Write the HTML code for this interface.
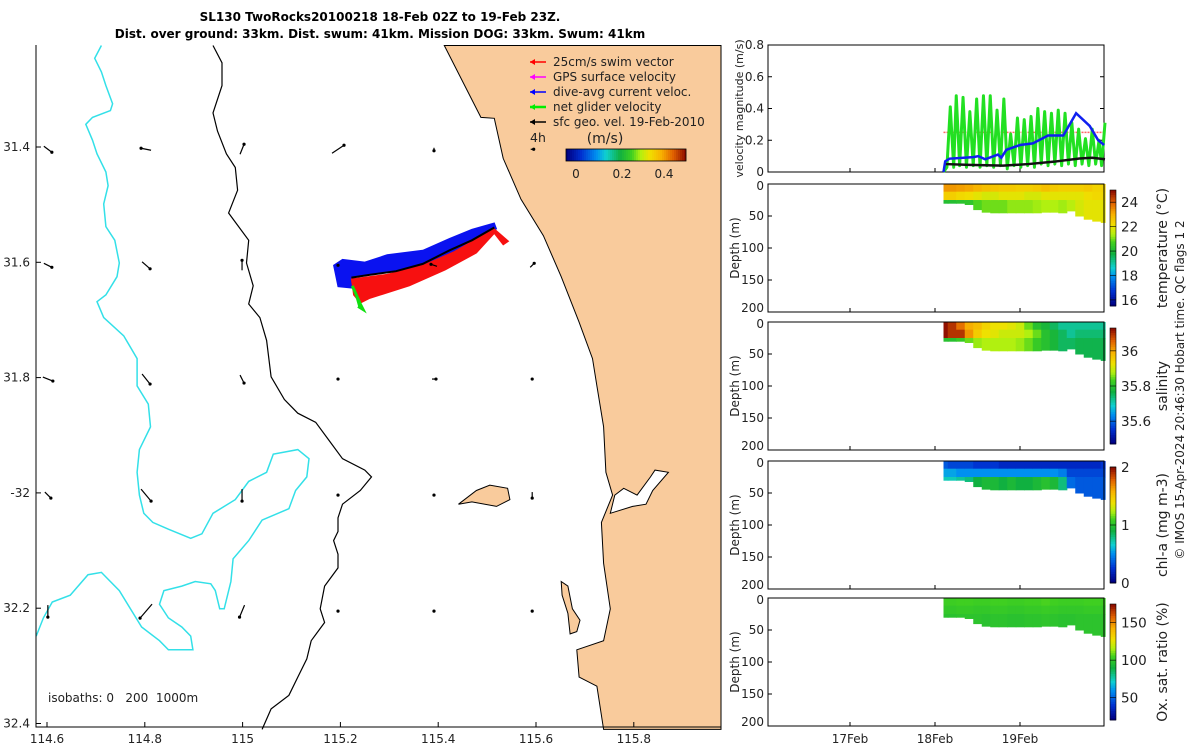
<!DOCTYPE html>
<html><head><meta charset="utf-8"><style>
html,body{margin:0;padding:0;background:#fff;}
svg{display:block;font-family:"DejaVu Sans","Liberation Sans",sans-serif;}
</style></head><body>
<svg id="fig" width="1200" height="750" viewBox="0 0 1200 750" xmlns="http://www.w3.org/2000/svg">
<text x="380" y="21" text-anchor="middle" font-size="12" font-weight="bold">SL130 TwoRocks20100218 18-Feb 02Z to 19-Feb 23Z.</text>
<text x="380" y="38" text-anchor="middle" font-size="12" font-weight="bold">Dist. over ground: 33km. Dist. swum: 41km. Mission DOG: 33km. Swum: 41km</text>
<g id="map"></g>
<g id="right"></g>
<text transform="translate(1184,390) rotate(-90)" text-anchor="middle" font-size="12" fill="#222">© IMOS 15-Apr-2024 20:46:30 Hobart time. QC flags 1  2</text>
</svg>
<script>
// ---------- data ----------
const NS="http://www.w3.org/2000/svg";
const profTimes=[18.1,18.2,18.3,18.4,18.5,18.6,18.7,18.8,18.9,19.0,19.1,19.2,19.3,19.4,19.5,19.6,19.7,19.8,19.9,20.0];
const bottomDepth=[30,30,30,32,40,44,45,45,45,45,45,45,44,44,45,42,50,55,58,60];
const tempTop=[23.4,23.4,23.3,23.2,23.0,22.8,22.7,22.6,22.6,22.5,22.5,22.6,22.8,22.6,22.5,22.5,22.5,22.6,22.4,22.4];
const tempMid=[22.5,22.5,22.3,22.2,22,21.8,21.8,22,22,22,21.8,21.8,22,22,22,22,22,22.2,22.3,22.3];
const tempBot=[20.2,20.2,20.3,20.4,20.8,21,21,21,21.2,21.2,21.2,21.3,21.4,21.4,21.3,21.5,21.8,22,22,22];
const salTop=[36.13,36.1,36.05,36.0,35.98,35.95,35.93,35.93,35.92,35.9,35.85,35.8,35.78,35.75,35.72,35.72,35.72,35.72,35.72,35.72];
const salMid=[36.13,36.1,36.1,36.02,35.96,35.93,35.92,35.9,35.9,35.9,35.88,35.85,35.8,35.78,35.75,35.72,35.74,35.74,35.74,35.74];
const salBot=[35.8,35.8,35.82,35.85,35.87,35.88,35.88,35.88,35.88,35.87,35.85,35.82,35.8,35.78,35.75,35.75,35.76,35.76,35.76,35.76];
const chlTop=[0.35,0.3,0.3,0.3,0.25,0.25,0.25,0.2,0.2,0.2,0.2,0.2,0.2,0.2,0.2,0.2,0.2,0.2,0.2,0.25];
const chlMid=[0.55,0.55,0.5,0.5,0.5,0.5,0.5,0.5,0.5,0.5,0.5,0.5,0.5,0.5,0.45,0.3,0.3,0.3,0.3,0.3];
const chlBot=[0.7,0.7,0.75,0.8,0.9,0.95,0.95,0.9,0.95,0.9,0.9,0.95,1.0,0.95,0.8,0.4,0.35,0.35,0.35,0.35];
const oxTop=[104,104,105,105,104,104,105,105,104,104,105,105,106,105,104,104,104,105,105,104];
const oxMid=[101,101,102,102,101,101,102,102,101,101,102,102,103,102,101,101,101,102,102,101];
const oxBot=[98,98,99,99,99,98,99,99,98,98,99,99,100,99,98,98,99,99,99,99];
const glideTimes=[18.1,18.14,18.18,18.22,18.25,18.29,18.33,18.37,18.41,18.45,18.49,18.53,18.57,18.61,18.65,18.69,18.73,18.77,18.81,18.85,18.89,18.93,18.97,19.01,19.05,19.09,19.13,19.17,19.21,19.25,19.29,19.33,19.37,19.41,19.45,19.49,19.53,19.57,19.61,19.65,19.69,19.73,19.77,19.81,19.85,19.89,19.93,19.96,20.0];
const glideSpeed=[0.0,0.03,0.41,0.03,0.48,0.04,0.47,0.03,0.38,0.04,0.46,0.03,0.48,0.04,0.48,0.03,0.39,0.04,0.46,0.02,0.24,0.04,0.34,0.03,0.33,0.04,0.35,0.03,0.40,0.05,0.38,0.04,0.37,0.05,0.39,0.04,0.37,0.05,0.31,0.04,0.27,0.05,0.21,0.04,0.27,0.05,0.20,0.04,0.31];
const curTimes=[18.10,18.12,18.17,18.45,18.51,18.59,18.74,18.78,18.84,19.0,19.15,19.33,19.51,19.66,19.82,19.92,19.99];
const curSpeed=[0,0.067,0.084,0.094,0.10,0.08,0.11,0.09,0.14,0.17,0.18,0.23,0.23,0.37,0.29,0.20,0.17];
const geoTimes=[18.12,18.4,18.8,19.1,19.4,19.7,19.85,20.0];
const geoSpeed=[0.05,0.045,0.04,0.05,0.065,0.085,0.09,0.08];
const swimRef=[0.25];
const velTicks=[0,0.2,0.4,0.6,0.8];
const depthTicks=[0,50,100,150,200];
const dayTicks=[17,18,19];
const dayLabels=["17Feb","18Feb","19Feb"];

// ---------- helpers ----------
function el(tag,attrs,parent){const e=document.createElementNS(NS,tag);for(const k in attrs)e.setAttribute(k,attrs[k]);parent.appendChild(e);return e;}
const cmapStops=[[0,[0,0,128]],[0.12,[0,48,208]],[0.25,[0,144,240]],[0.33,[16,208,208]],[0.45,[16,176,64]],[0.55,[64,208,32]],[0.62,[176,240,16]],[0.7,[240,224,0]],[0.8,[248,176,0]],[0.9,[224,96,0]],[1,[144,16,0]]];
function jet(t){t=Math.max(0,Math.min(1,t));
 for(let i=1;i<cmapStops.length;i++){if(t<=cmapStops[i][0]){const a=cmapStops[i-1],b=cmapStops[i];const f=(t-a[0])/(b[0]-a[0]);
  const c=a[1].map((v,k)=>Math.round(v+(b[1][k]-v)*f));return `rgb(${c[0]},${c[1]},${c[2]})`;}}
 return 'rgb(144,16,0)';}
const svg=document.getElementById('fig');

// ---------- map ----------
const map=document.getElementById('map');
const MX0=36,MX1=721,MY0=45,MY1=727;
const Z=(zx,zy)=>[30+zx*0.4464,147+(zy-235)*0.455];
function zpath(pts,close){return pts.map((p,i)=>{const q=Z(p[0],p[1]);return (i?'L':'M')+q[0].toFixed(1)+' '+q[1].toFixed(1);}).join(' ')+(close?' Z':'');}
const land=[[928,12],[1010,170],[1040,172],[1042,180],[1060,260],[1100,350],[1150,430],[1190,520],[1230,620],[1260,700],[1270,760],[1285,850],[1290,950],[1305,1000],[1280,1060],[1285,1150],[1300,1250],[1285,1320],[1225,1340],[1230,1400],[1270,1420],[1285,1515],[1548,1515],[1548,12]];
let p=el('path',{d:zpath(land,true),fill:'#f9cb9c',stroke:'#000','stroke-width':1},map);

const estuary=[[1310,1000],[1330,985],[1360,1000],[1390,960],[1400,945],[1430,950],[1395,990],[1380,1020],[1350,1025],[1300,1040]];
p=el('path',{d:zpath(estuary,true),fill:'#fff',stroke:'#000','stroke-width':1},map);

const rottnest=[[960,1020],[1000,990],[1030,978],[1070,985],[1075,1010],[1045,1025],[990,1015]];
p=el('path',{d:zpath(rottnest,true),fill:'#f9cb9c',stroke:'#000','stroke-width':1},map);

const garden=[[1190,1190],[1205,1200],[1215,1250],[1232,1275],[1225,1300],[1210,1305],[1205,1260],[1192,1220]];
p=el('path',{d:zpath(garden,true),fill:'#f9cb9c',stroke:'#000','stroke-width':1},map);

const iso200=[[410,12],[430,50],[430,100],[410,160],[420,200],[440,250],[460,280],[465,330],[445,380],[460,400],[490,440],[485,490],[500,540],[490,580],[515,610],[530,660],[540,740],[570,790],[600,820],[640,840],[670,880],[700,920],[750,945],[765,960],[740,990],[700,1020],[690,1050],[690,1080],[680,1100],[690,1130],[690,1160],[660,1200],[650,1250],[660,1280],[630,1320],[620,1360],[600,1400],[580,1440],[540,1470],[520,1515]];
p=el('path',{d:zpath(iso200),fill:'none',stroke:'#000','stroke-width':1.2},map);

const iso1000=[[160,12],[145,40],[160,70],[170,100],[185,140],[180,155],[140,170],[125,185],[140,220],[150,250],[170,290],[175,320],[165,360],[170,410],[190,440],[200,490],[195,520],[170,560],[150,575],[165,610],[210,650],[240,700],[240,760],[265,800],[270,850],[245,900],[240,950],[245,1000],[255,1040],[275,1060],[310,1075],[360,1095],[385,1085],[410,1040],[460,1010],[490,970],[530,950],[545,910],[600,900],[625,920],[620,960],[595,990],[580,1030],[520,1055],[490,1100],[455,1140],[450,1190],[435,1250],[425,1250],[415,1210],[405,1195],[370,1190],[340,1200],[300,1210],[290,1240],[310,1270],[340,1290],[360,1310],[365,1340],[310,1340],[290,1320],[250,1290],[200,1210],[160,1170],[130,1175],[90,1220],[50,1235],[30,1270],[14,1310]];
p=el('path',{d:zpath(iso1000),fill:'none',stroke:'#33e0e8','stroke-width':1.5},map);

// glider track
const blueBand=[[680,495],[700,482],[750,488],[800,472],[880,462],[940,436],[990,416],[1040,402],[1045,415],[990,440],[940,470],[880,495],[800,510],[730,520],[722,545],[690,542]];
p=el('path',{d:zpath(blueBand,true),fill:'#0a12f0',stroke:'#0a12f0','stroke-width':1},map);

const redBand=[[720,525],[800,515],[880,495],[950,465],[1040,415],[1072,442],[1060,450],[1040,425],[1000,468],[930,505],[850,540],[760,568],[740,578],[725,560]];
p=el('path',{d:zpath(redBand,true),fill:'#f71010',stroke:'#f71010','stroke-width':1},map);

const track=[[720,522],[760,516],[820,508],[880,492],[940,462],[990,440],[1040,412]];
p=el('path',{d:zpath(track),fill:'none',stroke:'#000','stroke-width':2},map);

p=el('path',{d:zpath([[722,540],[740,580],[746,592],[735,585]]),fill:'#10e010',stroke:'#10e010','stroke-width':3},map);

// geostrophic arrows
const gridLon=[40,260,475,690,905,1125];
const gridLat=[240,495,745,1000,1255];
const arrU=[[8,-10,4,12,0,3],[8,8,0,0,-6,4],[10,8,4,0,4,0],[6,10,0,0,0,0],[0,-12,-5,0,0,0]];
const arrV=[[6,-2,-10,-8,3,0],[4,7,-10,0,-2,-4],[4,10,8,0,0,0],[6,12,12,0,0,6],[12,14,12,0,0,0]];
for(let j=0;j<gridLat.length;j++)for(let i=0;i<gridLon.length;i++){
 const q=Z(gridLon[i],gridLat[j]);const u=arrU[j][i]*0.5,v=arrV[j][i]*0.5;
 const a=el('line',{x1:q[0]-u,y1:q[1]-v,x2:q[0]+u,y2:q[1]+v,stroke:'#000','stroke-width':1.2},map);
 
 const h=el('circle',{cx:q[0]+u,cy:q[1]+v,r:1.6,fill:'#000'},map);
 
}
// axes
p=el('path',{d:`M${MX0} ${MY0} V${MY1} H${MX1}`,fill:'none',stroke:'#000','stroke-width':1},map);

const lonTicks=[114.6,114.8,115,115.2,115.4,115.6,115.8];
lonTicks.forEach((v,i)=>{const x=47+(v-114.6)/0.2*97.8;
 el('line',{x1:x,y1:MY1,x2:x,y2:MY1-5,stroke:'#000'},map);
 const t=el('text',{x:x,y:743,'text-anchor':'middle','font-size':12,fill:'#222'},map);t.textContent=String(v);
 });
const latTicks=["31.4","31.6","31.8","-32","32.2","32.4"];
latTicks.forEach((s,i)=>{const y=147+i*115.3;
 el('line',{x1:MX0,y1:y,x2:MX0+5,y2:y,stroke:'#000'},map);
 const t=el('text',{x:30,y:y+4,'text-anchor':'end','font-size':12,fill:'#222'},map);t.textContent=s;
 });
let t=el('text',{x:48,y:702,'font-size':12,fill:'#222',style:'white-space:pre'},map);t.textContent='isobaths: 0   200  1000m';

// legend
const leg=[['#f00','25cm/s swim vector'],['#f0f','GPS surface velocity'],['#00f','dive-avg current veloc.'],['#0e0','net glider velocity'],['#000','sfc geo. vel. 19-Feb-2010']];
leg.forEach((e,i)=>{const y=62+i*15;
 const g=el('g',{},map);
 el('line',{x1:530,y1:y,x2:546,y2:y,stroke:e[0],'stroke-width':i==3?2.5:1.5},g);
 el('path',{d:`M530 ${y} l5 -3 v6 z`,fill:e[0]},g);
 const tt=el('text',{x:553,y:y+4,'font-size':12,fill:'#222'},g);tt.textContent=e[1];});
t=el('text',{x:530,y:142,'font-size':12.5,fill:'#222'},map);t.textContent='4h';

t=el('text',{x:605,y:143,'font-size':14,'text-anchor':'middle',fill:'#222'},map);t.textContent='(m/s)';

for(let k=0;k<60;k++){el('rect',{x:566+k*2,y:149,width:2.2,height:12,fill:jet(k/59)},map);}
p=el('rect',{x:566,y:149,width:120,height:12,fill:'none',stroke:'#000','stroke-width':0.8},map);

[['0',576],['0.2',622],['0.4',664]].forEach(a=>{const tt=el('text',{x:a[1],y:178,'font-size':12,'text-anchor':'middle',fill:'#222'},map);tt.textContent=a[0];
 });

// ---------- right panels ----------
const R=document.getElementById('right');
const PX0=768,PX1=1104;
const tx=d=>850+(d-17)*85;
function axesBox(y0,y1,name){const g=el('g',{},R);
 el('rect',{x:PX0,y:y0,width:PX1-PX0,height:y1-y0,fill:'none',stroke:'#000','stroke-width':1},g);
 dayTicks.forEach(d=>{el('line',{x1:tx(d),y1:y1,x2:tx(d),y2:y1-4,stroke:'#000'},g);});return g;}
// velocity panel
{const y0=45,y1=172;const vy=v=>y1-(v/0.8)*(y1-y0);
 const g=axesBox(y0,y1,'velocity-panel');
 velTicks.forEach(v=>{el('line',{x1:PX0,y1:vy(v),x2:PX0+4,y2:vy(v),stroke:'#000'},g);el('line',{x1:PX1,y1:vy(v),x2:PX1-4,y2:vy(v),stroke:'#000'},g);
  const tt=el('text',{x:PX0-4,y:vy(v)+4,'text-anchor':'end','font-size':12,fill:'#222'},g);tt.textContent=String(v);});
 const yl=el('text',{transform:`translate(743,${(y0+y1)/2}) rotate(-90)`,'text-anchor':'middle','font-size':11,fill:'#222'},g);yl.textContent='velocity magnitude (m/s)';
 
 let l=el('line',{x1:tx(18.1),y1:vy(swimRef[0]),x2:tx(20),y2:vy(swimRef[0]),stroke:'#f66','stroke-width':1.5,'stroke-dasharray':'2 1'},g);
 
 l=el('polyline',{points:glideTimes.map((d,i)=>tx(d)+','+vy(glideSpeed[i])).join(' '),fill:'none',stroke:'#22e022','stroke-width':3,'stroke-linejoin':'round'},g);
 
 l=el('polyline',{points:geoTimes.map((d,i)=>tx(d)+','+vy(geoSpeed[i])).join(' '),fill:'none',stroke:'#111','stroke-width':2.5},g);
 
 l=el('polyline',{points:curTimes.map((d,i)=>tx(d)+','+vy(curSpeed[i])).join(' '),fill:'none',stroke:'#1020f0','stroke-width':2.5},g);
 
}
// section panels
const sections=[
 {y0:184,name:'temperature-panel',top:tempTop,mid:tempMid,bot:tempBot,vmin:15.5,vmax:25,ticks:[16,18,20,22,24],label:'temperature (°C)'},
 {y0:322,name:'salinity-panel',top:salTop,mid:salMid,bot:salBot,vmin:35.47,vmax:36.13,ticks:[35.6,35.8,36],label:'salinity'},
 {y0:461,name:'chlorophyll-panel',top:chlTop,mid:chlMid,bot:chlBot,vmin:0,vmax:2,ticks:[0,1,2],label:'chl-a (mg m-3)'},
 {y0:598,name:'oxygen-panel',top:oxTop,mid:oxMid,bot:oxBot,vmin:20,vmax:175,ticks:[50,100,150],label:'Ox. sat. ratio (%)'}];
sections.forEach(s=>{const y0=s.y0,y1=s.y0+128;const dy=d=>y0+d/200*(y1-y0);
 const norm=v=>(v-s.vmin)/(s.vmax-s.vmin);
 const g=axesBox(y0,y1,s.name);
 const cw=85*0.1;
 profTimes.forEach((d,i)=>{const x=tx(d)-cw/2+ (i==0?cw/2:0);const w=i==0?cw/2:(i==profTimes.length-1?cw/2:cw);
  const layers=[[0,12,s.top[i]],[12,25,s.mid[i]],[25,bottomDepth[i],s.bot[i]]];
  layers.forEach(L=>{const c=el('rect',{x:x,y:dy(L[0]),width:w+0.6,height:dy(L[1])-dy(L[0])+0.5,fill:jet(norm(L[2]))},g);
   });});
 el('rect',{x:PX0,y:y0,width:PX1-PX0,height:y1-y0,fill:'none',stroke:'#000','stroke-width':1},g);
 depthTicks.forEach(d=>{el('line',{x1:PX0,y1:dy(d),x2:PX0+4,y2:dy(d),stroke:'#000'},g);
  const tt=el('text',{x:PX0-4,y:dy(d)+(d==0?6:d==200?0:4),'text-anchor':'end','font-size':12,fill:'#222'},g);tt.textContent=String(d);});
 const yl=el('text',{transform:`translate(739,${(y0+y1)/2}) rotate(-90)`,'text-anchor':'middle','font-size':12,fill:'#222'},g);yl.textContent='Depth (m)';
 
 const cb0=y0+6,cb1=y1-6;
 for(let k=0;k<50;k++){el('rect',{x:1110,y:cb1-(k+1)*(cb1-cb0)/50,width:6,height:(cb1-cb0)/50+0.4,fill:jet(k/49)},g);}
 const cb=el('rect',{x:1110,y:cb0,width:6,height:cb1-cb0,fill:'none',stroke:'#000','stroke-width':0.6},g);
 
 s.ticks.forEach(v=>{const y=cb1-norm(v)*(cb1-cb0);el('line',{x1:1110,y1:y,x2:1116,y2:y,stroke:'#000','stroke-width':0.6},g);
  const tt=el('text',{x:1121,y:y+5,'font-size':13.5,fill:'#222'},g);tt.textContent=String(v);
  });
 const cl=el('text',{transform:`translate(1167,${(y0+y1)/2}) rotate(-90)`,'text-anchor':'middle','font-size':14,fill:'#222'},g);cl.textContent=s.label;
 
});
dayTicks.forEach((d,i)=>{const tt=el('text',{x:tx(d),y:743,'text-anchor':'middle','font-size':12,fill:'#222'},R);tt.textContent=dayLabels[i];
 });
</script>
</body></html>
